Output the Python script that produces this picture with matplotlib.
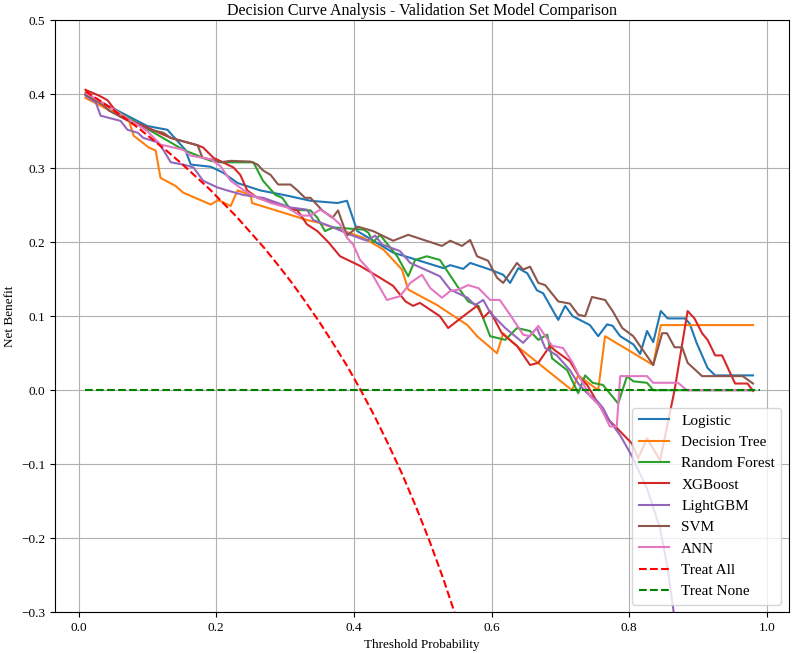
import matplotlib
matplotlib.use("Agg")
import matplotlib.pyplot as plt

plt.rcParams['font.family'] = ['Liberation Serif', 'DejaVu Serif']

# values
logistic_t = [0.01, 0.05, 0.10, 0.129, 0.155, 0.163, 0.192, 0.21, 0.231, 0.264, 0.303, 0.337, 0.376, 0.39, 0.405, 0.414,
              0.457, 0.492, 0.53, 0.54, 0.559, 0.569, 0.598, 0.617, 0.627, 0.639, 0.652, 0.666, 0.675, 0.697, 0.707,
              0.718, 0.743, 0.755, 0.768, 0.776, 0.787, 0.806, 0.816, 0.826, 0.835, 0.846, 0.856, 0.881, 0.888, 0.898,
              0.914, 0.925, 0.98]
logistic_nb = [0.400, 0.381, 0.357, 0.352, 0.325, 0.305, 0.302, 0.294, 0.280, 0.270, 0.263, 0.256, 0.253, 0.256, 0.215,
               0.210, 0.186, 0.176, 0.165, 0.169, 0.164, 0.172, 0.163, 0.156, 0.145, 0.165, 0.158, 0.135, 0.131, 0.095,
               0.114, 0.100, 0.088, 0.073, 0.089, 0.087, 0.073, 0.062, 0.049, 0.080, 0.065, 0.107, 0.097, 0.097, 0.090,
               0.064, 0.030, 0.020, 0.020]

dt_t = [0.01, 0.073, 0.08, 0.102, 0.112, 0.119, 0.141, 0.152, 0.192, 0.203, 0.221, 0.231, 0.25, 0.252, 0.332, 0.351,
        0.37, 0.414, 0.443, 0.47, 0.479, 0.521, 0.565, 0.579, 0.608, 0.617, 0.631, 0.717, 0.726, 0.755, 0.765, 0.835,
        0.846, 0.98]
dt_nb = [0.395, 0.365, 0.344, 0.328, 0.324, 0.287, 0.276, 0.267, 0.251, 0.257, 0.249, 0.270, 0.264, 0.253, 0.230,
         0.226, 0.220, 0.206, 0.190, 0.163, 0.136, 0.115, 0.088, 0.073, 0.050, 0.077, 0.064, 0.000, 0.020, 0.000,
         0.073, 0.034, 0.088, 0.088]

rf_t = [0.01, 0.05, 0.104, 0.152, 0.192, 0.21, 0.254, 0.268, 0.286, 0.296, 0.308, 0.337, 0.347, 0.358, 0.37, 0.414,
        0.421, 0.428, 0.438, 0.463, 0.479, 0.489, 0.506, 0.525, 0.55, 0.566, 0.581, 0.598, 0.62, 0.637, 0.656, 0.668,
        0.681, 0.688, 0.71, 0.726, 0.736, 0.747, 0.762, 0.784, 0.797, 0.806, 0.826, 0.835, 0.98]
rf_nb = [0.400, 0.380, 0.351, 0.325, 0.310, 0.308, 0.308, 0.283, 0.264, 0.260, 0.244, 0.243, 0.233, 0.215, 0.220,
         0.217, 0.213, 0.200, 0.210, 0.181, 0.154, 0.176, 0.181, 0.176, 0.141, 0.120, 0.114, 0.073, 0.068, 0.084,
         0.080, 0.068, 0.075, 0.043, 0.027, -0.004, 0.020, 0.010, 0.007, -0.018, 0.019, 0.012, 0.010, 0.000, 0.000]

xgb_t = [0.01, 0.03, 0.042, 0.06, 0.10, 0.134, 0.173, 0.181, 0.196, 0.21, 0.225, 0.235, 0.245, 0.26, 0.298, 0.318,
         0.332, 0.347, 0.363, 0.38, 0.409, 0.438, 0.457, 0.475, 0.486, 0.496, 0.525, 0.537, 0.559, 0.579, 0.588,
         0.598, 0.615, 0.637, 0.656, 0.668, 0.685, 0.692, 0.714, 0.729, 0.739, 0.753, 0.768, 0.782, 0.804, 0.813,
         0.826, 0.845, 0.866, 0.885, 0.895, 0.906, 0.914, 0.925, 0.935, 0.954, 0.972, 0.98]
xgb_nb = [0.406, 0.398, 0.392, 0.370, 0.355, 0.341, 0.331, 0.328, 0.314, 0.308, 0.301, 0.291, 0.270, 0.260, 0.249,
          0.243, 0.224, 0.215, 0.200, 0.181, 0.168, 0.152, 0.141, 0.120, 0.114, 0.118, 0.100, 0.084, 0.100, 0.114,
          0.098, 0.107, 0.077, 0.060, 0.034, 0.037, 0.060, 0.054, 0.039, 0.016, 0.007, -0.015, -0.038, -0.051,
          -0.072, -0.092, -0.065, -0.095, 0.000, 0.107, 0.097, 0.077, 0.068, 0.047, 0.047, 0.009, 0.009, -0.001]

lgb_t = [0.01, 0.025, 0.032, 0.061, 0.071, 0.086, 0.094, 0.115, 0.123, 0.134, 0.152, 0.167, 0.181, 0.202, 0.216,
         0.239, 0.268, 0.308, 0.332, 0.341, 0.37, 0.395, 0.419, 0.431, 0.441, 0.467, 0.482, 0.525, 0.54, 0.565,
         0.576, 0.588, 0.598, 0.62, 0.646, 0.666, 0.678, 0.695, 0.714, 0.726, 0.739, 0.753, 0.762, 0.772, 0.787,
         0.804, 0.826, 0.845, 0.856, 0.864, 0.875]
lgb_nb = [0.398, 0.389, 0.371, 0.364, 0.352, 0.348, 0.341, 0.335, 0.325, 0.308, 0.305, 0.301, 0.283, 0.274, 0.270,
          0.264, 0.260, 0.247, 0.244, 0.230, 0.220, 0.210, 0.202, 0.209, 0.197, 0.188, 0.172, 0.154, 0.136, 0.125,
          0.115, 0.122, 0.105, 0.084, 0.064, 0.084, 0.057, 0.047, 0.027, 0.009, -0.004, -0.014, -0.024, -0.042,
          -0.061, -0.089, -0.133, -0.187, -0.241, -0.295, -0.380]

svm_t = [0.01, 0.036, 0.044, 0.07, 0.104, 0.123, 0.134, 0.173, 0.18, 0.192, 0.206, 0.221, 0.25, 0.26, 0.268, 0.279,
         0.29, 0.308, 0.318, 0.329, 0.337, 0.354, 0.369, 0.377, 0.39, 0.406, 0.428, 0.457, 0.479, 0.528, 0.54, 0.557,
         0.569, 0.579, 0.595, 0.608, 0.617, 0.637, 0.646, 0.656, 0.668, 0.678, 0.697, 0.714, 0.726, 0.736, 0.746,
         0.765, 0.776, 0.79, 0.806, 0.835, 0.848, 0.855, 0.866, 0.877, 0.885, 0.906, 0.965, 0.98]
svm_nb = [0.400, 0.385, 0.378, 0.365, 0.352, 0.348, 0.341, 0.331, 0.314, 0.312, 0.308, 0.310, 0.309, 0.305, 0.297,
          0.291, 0.278, 0.278, 0.270, 0.260, 0.260, 0.243, 0.233, 0.243, 0.209, 0.221, 0.215, 0.202, 0.210, 0.195,
          0.202, 0.195, 0.203, 0.181, 0.175, 0.152, 0.145, 0.172, 0.163, 0.167, 0.145, 0.142, 0.120, 0.117, 0.102,
          0.100, 0.126, 0.122, 0.107, 0.084, 0.073, 0.034, 0.077, 0.077, 0.058, 0.058, 0.037, 0.019, 0.019, 0.009]

ann_t = [0.01, 0.05, 0.10, 0.119, 0.152, 0.163, 0.181, 0.192, 0.206, 0.221, 0.239, 0.254, 0.279, 0.303, 0.322, 0.337,
         0.351, 0.366, 0.38, 0.39, 0.399, 0.409, 0.424, 0.448, 0.467, 0.482, 0.499, 0.511, 0.528, 0.54, 0.552, 0.566,
         0.581, 0.598, 0.612, 0.627, 0.646, 0.656, 0.668, 0.688, 0.704, 0.718, 0.729, 0.743, 0.758, 0.772, 0.782,
         0.787, 0.826, 0.835, 0.871, 0.884, 0.98]
ann_nb = [0.402, 0.380, 0.350, 0.332, 0.325, 0.317, 0.314, 0.312, 0.303, 0.283, 0.271, 0.263, 0.253, 0.247, 0.236,
          0.236, 0.244, 0.236, 0.224, 0.206, 0.197, 0.176, 0.161, 0.122, 0.127, 0.145, 0.156, 0.138, 0.125, 0.134,
          0.136, 0.142, 0.138, 0.122, 0.122, 0.102, 0.075, 0.073, 0.087, 0.060, 0.057, 0.037, 0.016, -0.008, -0.022,
          -0.049, -0.049, 0.019, 0.019, 0.010, 0.010, 0.000, 0.000]

all_t = [0.01, 0.03, 0.05, 0.07, 0.09, 0.11, 0.13, 0.15, 0.17, 0.19, 0.21, 0.23, 0.25, 0.27, 0.29, 0.31, 0.33, 0.35,
         0.37, 0.39, 0.41, 0.43, 0.45, 0.47, 0.49, 0.51, 0.53, 0.55, 0.57]
all_nb = [0.404, 0.392, 0.379, 0.366, 0.352, 0.337, 0.322, 0.306, 0.289, 0.272, 0.253, 0.234, 0.213, 0.192, 0.169,
          0.145, 0.119, 0.092, 0.063, 0.033, 0.000, -0.035, -0.073, -0.113, -0.157, -0.204, -0.255, -0.311, -0.372]

none_t = [0.01, 0.99]
none_nb = [0.0, 0.0]

models = [
    ('Logistic', logistic_t, logistic_nb),
    ('Decision Tree', dt_t, dt_nb),
    ('Random Forest', rf_t, rf_nb),
    ('XGBoost', xgb_t, xgb_nb),
    ('LightGBM', lgb_t, lgb_nb),
    ('SVM', svm_t, svm_nb),
    ('ANN', ann_t, ann_nb),
]

fig = plt.figure(figsize=(8, 6.54), dpi=100)
ax = fig.subplots()
fig.subplots_adjust(left=0.069, right=0.986, top=0.969, bottom=0.064)

for name, t, nb in models:
    ax.plot(t, nb, lw=1.5, label=name)
ax.plot(all_t, all_nb, 'r--', lw=1.5, label='Treat All')
ax.plot(none_t, none_nb, 'g--', lw=1.5, label='Treat None')

ax.set_xlim(-0.034, 1.032)
ax.set_ylim(-0.3, 0.5)
ax.set_xlabel('Threshold Probability', fontsize=9.5)
ax.set_ylabel('Net Benefit', fontsize=9.5)
ax.set_title('Decision Curve Analysis - Validation Set Model Comparison', fontsize=11.5, pad=4)
ax.tick_params(labelsize=9.5)
ax.grid(True)
ax.legend(loc='lower right', fontsize=11)

fig.savefig('out.png', dpi=100)
